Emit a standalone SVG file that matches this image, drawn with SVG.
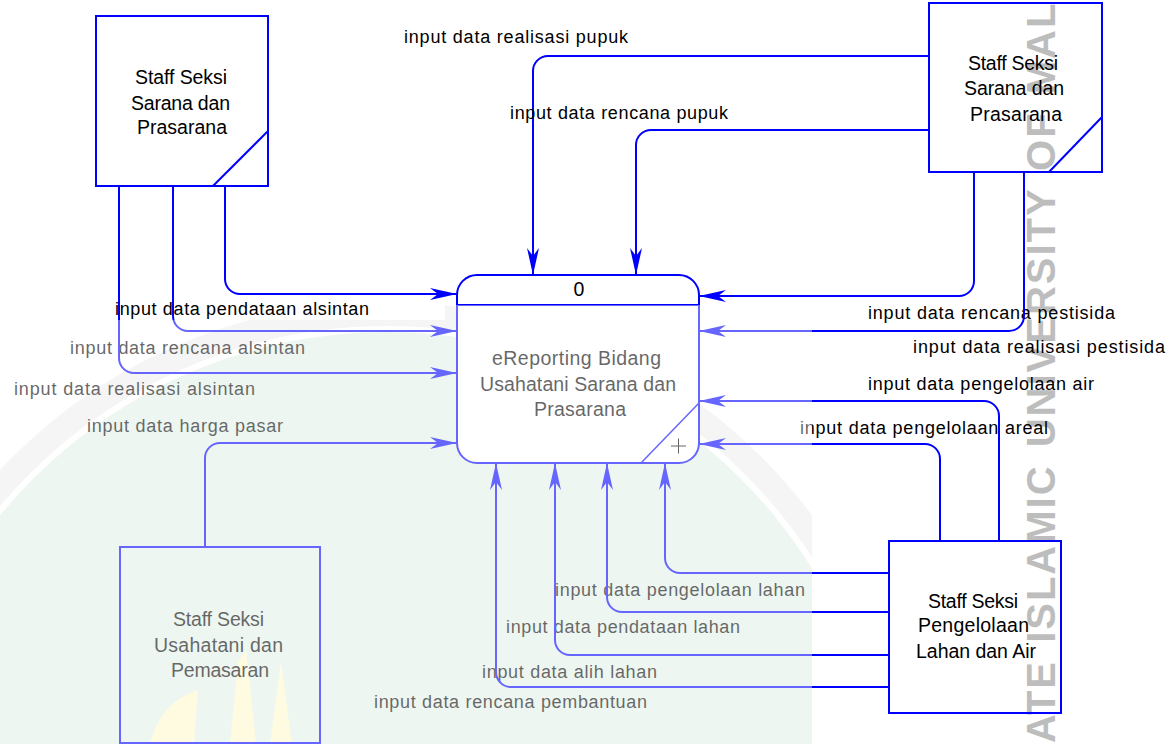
<svg xmlns="http://www.w3.org/2000/svg" width="1173" height="744" viewBox="0 0 1173 744">
<defs>
<style>
.ent{fill:none;stroke:#0000ff;stroke-width:2}
.proc{fill:#fff;stroke:#0000ff;stroke-width:2}
.thin{fill:none;stroke:#0000ff;stroke-width:1.5}
.flow{fill:none;stroke:#0000ff;stroke-width:2;marker-end:url(#arr)}
.lbl{font-family:"Liberation Sans",Arial,sans-serif;font-size:18px;fill:#000}
.nt{font-family:"Liberation Sans",Arial,sans-serif;font-size:19.5px;fill:#000}
.wm{font-family:"Liberation Sans",Arial,sans-serif;font-size:40px;font-weight:bold;fill:#bdbdbd;letter-spacing:2px;word-spacing:4px}
</style>
<marker id="arr" markerWidth="30" markerHeight="14" refX="28" refY="7" orient="auto" markerUnits="userSpaceOnUse"><path d="M28,7 L1,1 L9,7 L1,13 Z" fill="#0000ff"/></marker>
<clipPath id="wmclip"><path d="M0,320 H445 V305 H812 V744 H0 Z"/></clipPath>
</defs>
<rect width="1173" height="744" fill="#fff"/>
<g id="watermark-bg" clip-path="url(#wmclip)">
<circle cx="387" cy="832" r="500" fill="#e2f1e7"/>
<circle cx="387" cy="832" r="518" fill="none" stroke="#efefef" stroke-width="24"/>
<path d="M150,744 Q160,702 198,690 L194,744 Z M230,744 L238,662 L246,650 L256,744 Z M270,744 L281,662 L292,744 Z" fill="#fff8cc"/>
</g>
<g id="watermark-text"><text class="wm" transform="translate(1055,743) rotate(-90)">ATE ISLAMIC UNIVERSITY OF MAL</text></g>

<g id="connectors">
<g><path class="flow" d="M225,186 V279 A15,15 0 0 0 240,294 H457"/><text class="lbl" x="115" y="315" textLength="254" lengthAdjust="spacing">input data pendataan alsintan</text></g>
<g><path class="flow" d="M173,186 V316 A15,15 0 0 0 188,331 H457"/><text class="lbl" x="70" y="354" textLength="235" lengthAdjust="spacing">input data rencana alsintan</text></g>
<g><path class="flow" d="M119,186 V358 A15,15 0 0 0 134,373 H457"/><text class="lbl" x="14" y="395" textLength="241" lengthAdjust="spacing">input data realisasi alsintan</text></g>
<g><path class="flow" d="M205,547 V458 A15,15 0 0 1 220,443 H457"/><text class="lbl" x="87" y="432" textLength="196" lengthAdjust="spacing">input data harga pasar</text></g>
<g><path class="flow" d="M929,56 H548 A15,15 0 0 0 533,71 V275"/><text class="lbl" x="404" y="43" textLength="224" lengthAdjust="spacing">input data realisasi pupuk</text></g>
<g><path class="flow" d="M929,130 H651 A15,15 0 0 0 636,145 V275"/><text class="lbl" x="510" y="119" textLength="218" lengthAdjust="spacing">input data rencana pupuk</text></g>
<g><path class="flow" d="M974,172 V281 A15,15 0 0 1 959,296 H699"/><text class="lbl" x="868" y="319" textLength="247" lengthAdjust="spacing">input data rencana pestisida</text></g>
<g><path class="flow" d="M1024,172 V316 A15,15 0 0 1 1009,331 H699"/><text class="lbl" x="913" y="353" textLength="252" lengthAdjust="spacing">input data realisasi pestisida</text></g>
<g><path class="flow" d="M999,541 V416 A15,15 0 0 0 984,401 H699"/><text class="lbl" x="868" y="390" textLength="226" lengthAdjust="spacing">input data pengelolaan air</text></g>
<g><path class="flow" d="M940,541 V459 A15,15 0 0 0 925,444 H699"/><text class="lbl" x="800" y="434" textLength="248" lengthAdjust="spacing">input data pengelolaan areal</text></g>
<g><path class="flow" d="M889,573 H680 A15,15 0 0 1 665,558 V463"/><text class="lbl" x="555" y="596" textLength="250" lengthAdjust="spacing">input data pengelolaan lahan</text></g>
<g><path class="flow" d="M889,612 H622 A15,15 0 0 1 607,597 V463"/><text class="lbl" x="506" y="633" textLength="234" lengthAdjust="spacing">input data pendataan lahan</text></g>
<g><path class="flow" d="M889,655 H570 A15,15 0 0 1 555,640 V463"/><text class="lbl" x="482" y="678" textLength="175" lengthAdjust="spacing">input data alih lahan</text></g>
<g><path class="flow" d="M889,687 H511 A15,15 0 0 1 496,672 V463"/><text class="lbl" x="374" y="708" textLength="273" lengthAdjust="spacing">input data rencana pembantuan</text></g>
</g>

<g id="process-0">
<rect class="proc" x="457" y="275" width="242" height="188" rx="20" ry="20"/>
<line class="ent" x1="457" y1="305" x2="699" y2="305"/>
<line class="thin" x1="641" y1="463" x2="699" y2="403"/>
<path d="M671,446 H686 M678.5,438.5 V453.5" stroke="#000" stroke-width="1" fill="none"/>
<text class="nt" x="579" y="296" text-anchor="middle">0</text>
<text class="nt" x="492" y="365" textLength="169" lengthAdjust="spacing">eReporting Bidang</text>
<text class="nt" x="480" y="391" textLength="196" lengthAdjust="spacing">Usahatani Sarana dan</text>
<text class="nt" x="534" y="416" textLength="92" lengthAdjust="spacing">Prasarana</text>
</g>

<g id="entity-sarana-1">
<rect class="ent" x="96" y="16" width="172" height="170"/>
<line class="ent" x1="213" y1="186" x2="268" y2="131"/>
<text class="nt" x="135" y="84" textLength="92" lengthAdjust="spacing">Staff Seksi</text>
<text class="nt" x="131" y="110" textLength="99" lengthAdjust="spacing">Sarana dan</text>
<text class="nt" x="137" y="134" textLength="90" lengthAdjust="spacing">Prasarana</text>
</g>

<g id="entity-sarana-2">
<rect class="ent" x="929" y="3" width="173" height="169"/>
<line class="ent" x1="1049" y1="172" x2="1102" y2="117"/>
<text class="nt" x="968" y="70" textLength="90" lengthAdjust="spacing">Staff Seksi</text>
<text class="nt" x="964" y="95" textLength="100" lengthAdjust="spacing">Sarana dan</text>
<text class="nt" x="970" y="121" textLength="92" lengthAdjust="spacing">Prasarana</text>
</g>

<g id="entity-usahatani">
<rect class="ent" x="120" y="547" width="200" height="196"/>
<text class="nt" x="173" y="626" textLength="91" lengthAdjust="spacing">Staff Seksi</text>
<text class="nt" x="154" y="652" textLength="129" lengthAdjust="spacing">Usahatani dan</text>
<text class="nt" x="171" y="677" textLength="98" lengthAdjust="spacing">Pemasaran</text>
</g>

<g id="entity-lahan-air">
<rect class="ent" x="889" y="541" width="172" height="172"/>
<text class="nt" x="928" y="608" textLength="90" lengthAdjust="spacing">Staff Seksi</text>
<text class="nt" x="918" y="632" textLength="111" lengthAdjust="spacing">Pengelolaan</text>
<text class="nt" x="916" y="658" textLength="120" lengthAdjust="spacing">Lahan dan Air</text>
</g>

<g id="watermark-veil" clip-path="url(#wmclip)">
<rect x="0" y="300" width="812" height="444" fill="#fff" opacity="0.4"/>
</g>
</svg>
